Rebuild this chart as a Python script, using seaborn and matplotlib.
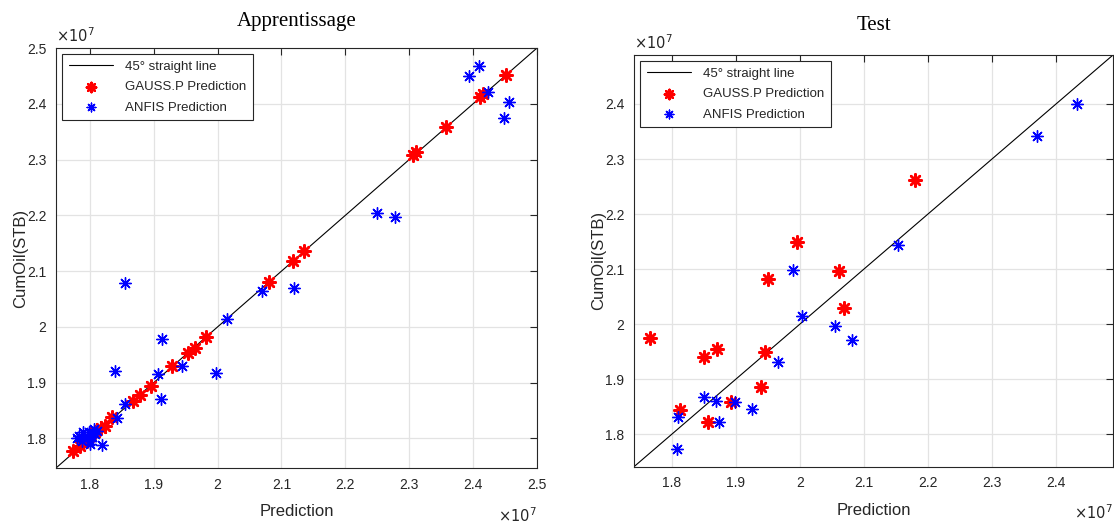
import matplotlib
matplotlib.use("Agg")
import matplotlib.pyplot as plt
import seaborn as sns
from matplotlib.ticker import FuncFormatter, MultipleLocator

# Values are in units of 1e7 STB
train_gauss_pred = [2.452, 2.416, 2.410, 2.357, 2.311, 2.306, 2.136, 2.118, 2.080,
                    1.982, 1.965, 1.954, 1.928, 1.895, 1.878, 1.868, 1.835, 1.823,
                    1.818, 1.808, 1.795, 1.790, 1.785, 1.774]
train_gauss_real = [2.452, 2.418, 2.412, 2.358, 2.313, 2.308, 2.136, 2.118, 2.080,
                    1.981, 1.963, 1.954, 1.929, 1.894, 1.878, 1.867, 1.838, 1.822,
                    1.818, 1.811, 1.796, 1.793, 1.787, 1.778]

train_anfis_pred = [2.409, 2.393, 2.424, 2.456, 2.449, 2.250, 2.277, 2.119, 2.070,
                    2.014, 1.855, 1.913, 1.945, 1.906, 1.998, 1.839, 1.912, 1.855,
                    1.842, 1.819, 1.783, 1.790, 1.800, 1.803, 1.795, 1.808, 1.800,
                    1.788, 1.798, 1.806, 1.780, 1.811]
train_anfis_real = [2.467, 2.450, 2.422, 2.403, 2.375, 2.204, 2.197, 2.069, 2.065,
                    2.014, 2.078, 1.979, 1.929, 1.915, 1.917, 1.921, 1.870, 1.861,
                    1.836, 1.789, 1.805, 1.811, 1.796, 1.802, 1.802, 1.808, 1.790,
                    1.796, 1.811, 1.817, 1.800, 1.814]

test_gauss_pred = [1.7665, 1.8135, 1.851, 1.871, 1.856, 1.892, 1.946, 1.940, 2.069,
                   2.180, 1.995, 1.950, 2.061]
test_gauss_real = [1.975, 1.844, 1.940, 1.955, 1.823, 1.859, 1.949, 1.885, 2.030,
                   2.262, 2.149, 2.082, 2.097]

test_anfis_pred = [1.809, 1.808, 1.851, 1.869, 1.873, 1.898, 1.925, 1.966, 2.004,
                   2.055, 2.081, 1.990, 2.154, 2.370, 2.433]
test_anfis_real = [1.832, 1.774, 1.867, 1.861, 1.823, 1.859, 1.846, 1.931, 2.0145,
                   1.996, 1.972, 2.098, 2.144, 2.341, 2.400]

train_range = [1.747, 2.500]
test_range = [1.741, 2.489]

sns.set_theme(style="white")
plt.rcParams["font.family"] = ["Liberation Sans", "DejaVu Sans"]

ASTERISK = (8, 2, 0)
fig = plt.figure(figsize=(11.14, 5.23), dpi=100)
ax1 = fig.add_axes([56 / 1114, 55 / 523, 481 / 1114, 420 / 523])
ax2 = fig.add_axes([634 / 1114, 56.3 / 523, 479 / 1114, 411.7 / 523])


def draw(ax, rng, gp, gr, ap, ar, title, title_pad):
    ax.grid(True, color="#e3e3e3", linewidth=0.9)
    ax.set_axisbelow(True)
    sns.lineplot(x=rng, y=rng, color="black", linewidth=0.8, ax=ax,
                 label="45\u00b0 straight line")
    sns.scatterplot(x=gp, y=gr, marker=ASTERISK, s=80, color="red",
                    edgecolor="red", linewidth=1.8, ax=ax, label="GAUSS.P Prediction",
                    zorder=3)
    sns.scatterplot(x=ap, y=ar, marker=ASTERISK, s=70, color="blue",
                    edgecolor="blue", linewidth=1.0, ax=ax, label="ANFIS Prediction",
                    zorder=4)
    ax.set_xlim(rng)
    ax.set_ylim(rng)
    ax.xaxis.set_major_locator(MultipleLocator(0.1))
    ax.yaxis.set_major_locator(MultipleLocator(0.1))
    fmt = FuncFormatter(lambda v, p: f"{round(v, 3):g}")
    ax.xaxis.set_major_formatter(fmt)
    ax.yaxis.set_major_formatter(fmt)
    ax.tick_params(direction="in", length=5, width=0.8, top=True, right=True,
                   labelsize=10, colors="#262626", pad=7)
    for s in ax.spines.values():
        s.set_visible(True)
        s.set_color("#262626")
        s.set_linewidth(0.8)
    ax.set_xlabel("Prediction", fontsize=12, color="#262626", labelpad=9)
    ax.set_ylabel("CumOil(STB)", fontsize=12, color="#262626", labelpad=-1)
    ax.set_title(title, family="Liberation Serif", fontsize=15, color="black",
                 pad=title_pad)
    ax.text(0.0, 1.008, r"$\times10^{7}$", transform=ax.transAxes, fontsize=10.5,
            color="#262626", ha="left", va="bottom")
    ax.text(1.0, -0.09, r"$\times10^{7}$", transform=ax.transAxes, fontsize=10.5,
            color="#262626", ha="right", va="top")
    leg = ax.legend(loc="upper left", fontsize=9.5, frameon=True, fancybox=False,
                    edgecolor="#262626", framealpha=1, handlelength=3.4,
                    borderaxespad=0.45, borderpad=0.5, labelspacing=0.62,
                    handletextpad=0.9, scatterpoints=1, markerscale=0.75)
    leg.get_frame().set_linewidth(0.8)


draw(ax1, train_range, train_gauss_pred, train_gauss_real,
     train_anfis_pred, train_anfis_real, "Apprentissage", 16)
draw(ax2, test_range, test_gauss_pred, test_gauss_real,
     test_anfis_pred, test_anfis_real, "Test", 18)

fig.savefig("out.png", dpi=100)
